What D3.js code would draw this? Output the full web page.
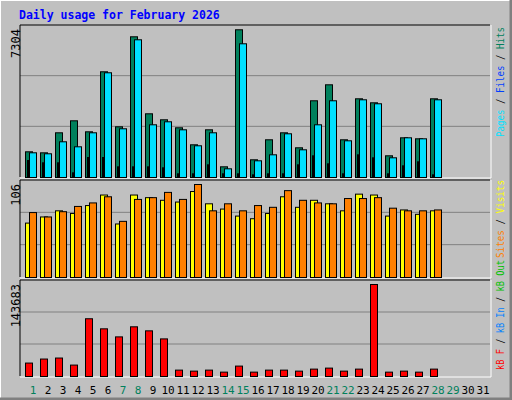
<!DOCTYPE html>
<html><head><meta charset="utf-8">
<script src="https://cdn.jsdelivr.net/npm/d3@7"></script>
<style>body{margin:0;background:#fff}</style></head><body>
<script>
const days = d3.range(1, 32);
const hits  = [1268,1218,2206,2798,2255,5217,2502,6944,3144,2848,2453,1614,2354,528,7290,874,1861,2206,1466,3786,4575,1861,3884,3687,1071,1959,1910,3884];
const files = [1219,1170,1762,1515,2206,5168,2404,6796,2601,2749,2354,1565,2206,429,6599,824,1120,2157,1367,2601,3786,1811,3835,3638,972,1959,1910,3835];
const pages = [839,726,726,232,987,987,528,528,528,479,183,183,627,183,183,133,183,183,627,1071,676,183,1120,972,183,577,775,133];
const visits= [62,69,76,73,82,94,61,94,91,88,86,98,84,78,70,67,73,92,80,88,84,76,95,94,70,77,72,76];
const sites = [74,69,75,81,85,92,64,89,91,97,89,106,76,84,76,82,80,99,88,85,84,90,90,91,79,76,76,77];
const kbF   = [20976,27269,28842,17827,90186,74456,61872,77602,71310,58726,9963,8389,9963,6816,16254,6816,9963,9963,8389,11535,13108,8389,11535,143683,6816,8389,6816,11535];
const weekend = [1,7,8,14,15,21,22,28,29];
const maxHits = 7304, maxVisits = 106, maxKB = 143683;

const W=512,H=400;
const svg=d3.select("body").append("svg").attr("width",W).attr("height",H);
svg.append("rect").attr("width",W).attr("height",H).attr("fill","#C0C0C0");
svg.append("polyline").attr("points","0,399 0,0 511,0").attr("fill","none").attr("stroke","#fff").attr("stroke-width",2);
svg.append("polyline").attr("points","0,399 511,399 511,0").attr("fill","none").attr("stroke","#808080").attr("stroke-width",3);
svg.append("text").attr("x",19).attr("y",19).attr("font-family","DejaVu Sans Mono").attr("font-weight","bold").attr("font-size",11.5).attr("fill","#0000FF").text("Daily usage for February 2026");

const x=d3.scaleLinear().domain([1,2]).range([25,40]);
const mono="DejaVu Sans Mono";

function panel(y0,y1,top,maxV,label){
  const g=svg.append("g");
  g.append("rect").attr("x",20).attr("y",y0).attr("width",470).attr("height",y1-y0).attr("fill","#C0C0C0");
  const h=y1-y0;
  [1/3,2/3].forEach(f=>g.append("line").attr("x1",20).attr("x2",490).attr("y1",y1-h*f).attr("y2",y1-h*f).attr("stroke","#808080"));
  g.append("polyline").attr("points",`20,${y1} 20,${y0} 490,${y0}`).attr("fill","none").attr("stroke","#000");
  g.append("polyline").attr("points",`20,${y1+1} 491,${y1+1} 491,${y0}`).attr("fill","none").attr("stroke","#fff");
  g.append("text").attr("transform",`translate(20,${top}) rotate(-90)`).attr("text-anchor","end").attr("font-family",mono).attr("font-size",12).text(label);
  return d3.scaleLinear().domain([0,maxV]).range([y1,top]);
}
function bars(data,y,dx,w,color){
  svg.append("g").selectAll("rect").data(data).join("rect")
    .attr("x",(d,i)=>x(i+1)+dx+0.5).attr("y",d=>y(d)+0.5).attr("width",w).attr("height",d=>y(0)-y(d))
    .attr("fill",color).attr("stroke","#000");
}
const y1=panel(25,177,29,maxHits,"7304");
bars(hits,y1,0,7,"#00805C");
bars(files,y1,4,7,"#00E0FF");
bars(pages,y1,2,1,"#0040FF");
const y2=panel(180,277,184,maxVisits,"106");
bars(visits,y2,0,7,"#FFFF00");
bars(sites,y2,4,7,"#FF8000");
const y3=panel(280,376,284,maxKB,"143683");
bars(kbF,y3,0,7,"#FF0000");

svg.append("g").selectAll("text").data(days).join("text")
  .attr("x",d=>x(d)+8).attr("y",394).attr("text-anchor","middle")
  .attr("font-family",mono).attr("font-size",11)
  .attr("fill",d=>weekend.includes(d)?"#00805C":"#000").text(d=>d);

function side(yb,len,parts){
  const t=svg.append("text").attr("transform",`translate(504,${yb}) rotate(-90)`).attr("font-family",mono).attr("font-size",10.5)
    .attr("textLength",len).attr("lengthAdjust","spacingAndGlyphs");
  parts.forEach(p=>t.append("tspan").attr("fill",p[1]).text(p[0]));
}
side(137,110,[["Pages","#00E0FF"],[" / ","#000"],["Files","#0040FF"],[" / ","#000"],["Hits","#00805C"]]);
side(258,78,[["Sites","#FF8000"],[" / ","#000"],["Visits","#FFFF00"]]);
side(370,110,[["kB F","#FF0000"],[" / ","#000"],["kB In","#0080FF"],[" / ","#000"],["kB Out","#00C000"]]);
</script></body></html>
